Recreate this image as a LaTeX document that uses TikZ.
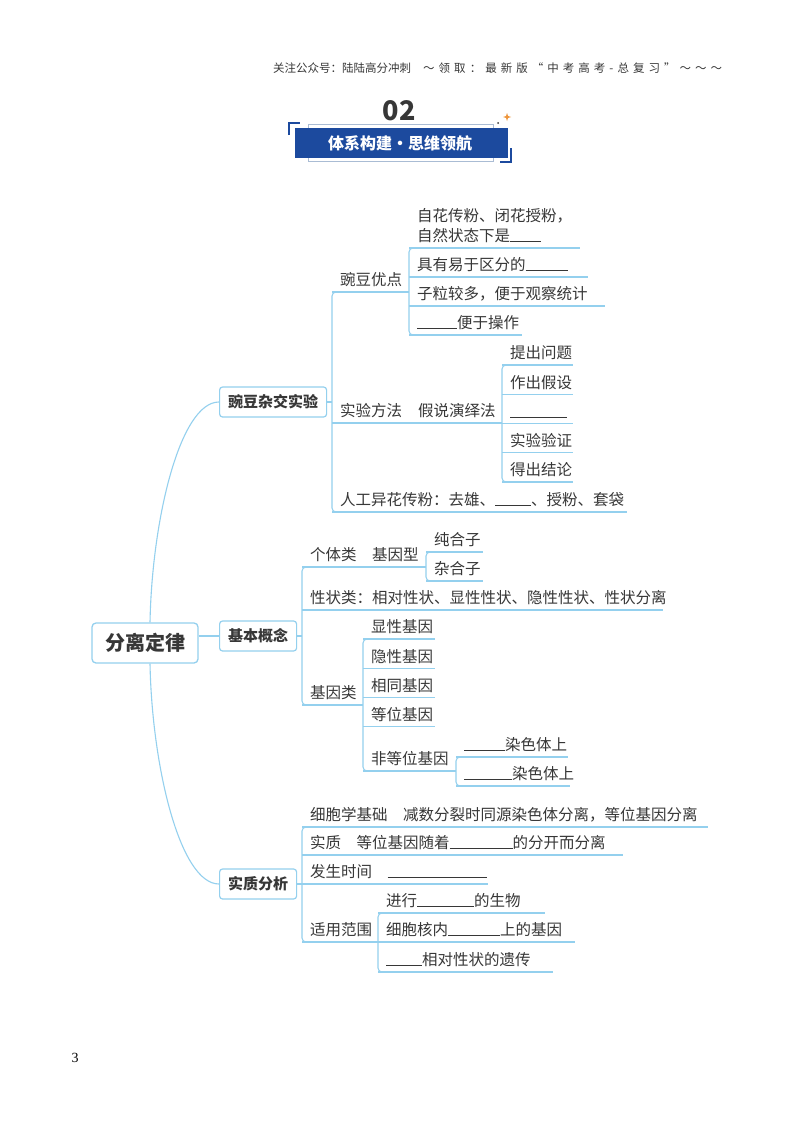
\documentclass[tikz,border=0pt]{standalone}
\usepackage{fontspec}
\setmainfont{Noto Sans CJK SC}
\newfontfamily\pagefont{Liberation Serif}
\usepackage{tikz}
\definecolor{lineblue}{RGB}{148,208,238}
\definecolor{ink}{RGB}{55,55,55}
\definecolor{bannerblue}{RGB}{28,74,158}
\definecolor{framegray}{RGB}{170,188,212}
\definecolor{sparkorange}{RGB}{238,150,60}
\newcommand\fillin[1]{\rule[-0.5pt]{#1}{1.1pt}}

\begin{document}
\begin{tikzpicture}[
      x=1pt, y=-1pt,
      ln/.style={draw=lineblue, line width=1.1pt},
      root/.style={draw=lineblue, line width=1.3pt, rounded corners=4pt, fill=white, minimum width=106pt, minimum height=40pt, font=\bfseries\fontsize{20}{24}\selectfont, text=ink},
      box/.style={draw=lineblue, line width=1.2pt, rounded corners=3pt, fill=white, anchor=west, minimum height=30pt, inner sep=0pt, font=\bfseries\fontsize{15}{18}\selectfont, text=ink},
      topic/.style={anchor=south west, inner xsep=8pt, inner ysep=2pt, text height=12pt, text depth=4pt, font=\fontsize{15.5}{20}\selectfont, text=ink},
      head/.style={anchor=west, inner sep=0pt, font=\fontsize{11.5}{14}\selectfont, text=ink}
    ]
      \fill[white] (0,0) rectangle (800,1132);

      \node[head] (hd1) at (273,68) {关注公众号：陆陆高分冲刺};
      \node[head] (hd2) at (423,68) {\addfontfeatures{LetterSpace=35}～领取：最新版“中考高考-总复习”～～～};

      \draw[draw=framegray, line width=0.8pt] (308,124) rectangle (493,161);
      \fill[bannerblue] (295,128) rectangle (508,158);
      \draw[bannerblue, line width=1.4pt] (289,135) -- (289,123) -- (300,123);
      \draw[bannerblue, line width=1.4pt] (500,162) -- (511,162) -- (511,148);
      \fill[ink] (498,123) circle (1pt);
      \fill[sparkorange] (507,113) -- (508,116) -- (511,117) -- (508,118) -- (507,121) -- (506,118) -- (503,117) -- (506,116) -- cycle;
      \node[font=\bfseries\fontsize{27}{30}\selectfont, text=ink] (num) at (399,111) {02};
      \node[font=\bfseries\fontsize{16}{18}\selectfont, text=white] (ttl) at (400,143) {体系构建·思维领航};

      \node[root] (root) at (145,643) {分离定律};
      \node[box, minimum width=107pt] (pea) at (219,402) {豌豆杂交实验};
      \node[box, minimum width=77pt] (con) at (219,636) {基本概念};
      \node[box, minimum width=77pt] (ess) at (219,884) {实质分析};

      \draw[ln] ([xshift=5pt]root.north) .. controls +(2,-103) and +(-39,0) .. (pea.west);
      \draw[ln] (root.east |- con.west) -- (con.west);
      \draw[ln] ([xshift=5pt]root.south) .. controls +(2,103) and +(-39,0) .. (ess.west);

      \node[topic] (adv) at (332,292) {豌豆优点};
      \node[topic] (a1) at (409,248) {\begin{tabular}[b]{@{}l@{}}自花传粉、闭花授粉，\\自然状态下是\fillin{31pt}\end{tabular}};
      \node[topic] (a2) at (409,277) {具有易于区分的\fillin{42pt}};
      \node[topic] (a3) at (409,306) {子粒较多，便于观察统计};
      \node[topic] (a4) at (409,335) {\fillin{40pt}便于操作};
      \node[topic] (met) at (332,423) {实验方法};
      \node[topic] (hyp) at (410,423) {假说演绎法};
      \foreach \t [count=\i] in {提出问题,作出假设,\fillin{57pt},实验验证,得出结论} {
        \node[topic] (s\i) at (502,{365+29.25*(\i-1)}) {\t};
        \draw[ln] (s\i.south west) -- ++(71,0);
      }
      \node[topic] (art) at (332,512) {人工异花传粉：去雄、\fillin{36pt}、授粉、套袋};

      \draw[ln] (pea.east) -- (pea.east -| adv.south west);
      \draw[ln, rounded corners=4pt] (adv.south west) ++(8,0) -- (adv.south west) -- (art.south west) -- ++(8,0);
      \draw[ln] (adv.south west) -- (adv.south west -| a1.south west);
      \draw[ln, rounded corners=4pt] (a1.south west) ++(8,0) -- (a1.south west) -- (a4.south west) -- ++(8,0);
      \draw[ln] (a1.south west) -- ++(171,0);
      \draw[ln] (a2.south west) -- ++(179,0);
      \draw[ln] (a3.south west) -- ++(196,0);
      \draw[ln] (a4.south west) -- ++(113,0);
      \draw[ln] (met.south west) -- (hyp.south west -| s1.south west);
      \draw[ln, rounded corners=4pt] (s1.south west) ++(8,0) -- (s1.south west) -- (s5.south west) -- ++(8,0);
      \draw[ln] (art.south west) -- ++(295,0);

      \node[topic] (ind) at (302,567) {个体类};
      \node[topic] (gty) at (364,567) {基因型};
      \node[topic] (pur) at (426,552) {纯合子};
      \node[topic] (het) at (426,581) {杂合子};
      \node[topic] (tra) at (302,610) {性状类：相对性状、显性性状、隐性性状、性状分离};
      \node[topic] (gcl) at (302,705) {基因类};
      \foreach \t [count=\i] in {显性基因,隐性基因,相同基因,等位基因} {
        \node[topic] (g\i) at (363,{639+29.3*(\i-1)}) {\t};
        \draw[ln] (g\i.south west) -- ++(72,0);
      }
      \node[topic] (g5) at (363,771) {非等位基因};
      \node[topic] (n1) at (456,757) {\fillin{41pt}染色体上};
      \node[topic] (n2) at (456,786) {\fillin{48pt}染色体上};

      \draw[ln] (con.east) -- (con.east -| ind.south west);
      \draw[ln, rounded corners=4pt] (ind.south west) ++(8,0) -- (ind.south west) -- (gcl.south west) -- ++(8,0);
      \draw[ln] (ind.south west) -- (ind.south west -| pur.south west);
      \draw[ln, rounded corners=4pt] (pur.south west) ++(8,0) -- (pur.south west) -- (het.south west) -- ++(8,0);
      \draw[ln] (pur.south west) -- ++(57,0);
      \draw[ln] (het.south west) -- ++(57,0);
      \draw[ln] (tra.south west) -- ++(361,0);
      \draw[ln] (gcl.south west) -- (gcl.south west -| g1.south west);
      \draw[ln, rounded corners=4pt] (g1.south west) ++(8,0) -- (g1.south west) -- (g5.south west) -- ++(8,0);
      \draw[ln] (g5.south west) -- (g5.south west -| n1.south west);
      \draw[ln, rounded corners=4pt] (n1.south west) ++(8,0) -- (n1.south west) -- (n2.south west) -- ++(8,0);
      \draw[ln] (n1.south west) -- ++(112,0);
      \draw[ln] (n2.south west) -- ++(114,0);

      \node[topic] (cyt) at (302,827) {细胞学基础\quad 减数分裂时同源染色体分离，等位基因分离};
      \node[topic] (sub) at (302,855) {实质\quad 等位基因随着\fillin{63pt}的分开而分离};
      \node[topic] (tim) at (302,884) {发生时间\quad \fillin{99pt}};
      \node[topic] (ran) at (302,942) {适用范围};
      \node[topic] (r1) at (378,913) {进行\fillin{57pt}的生物};
      \node[topic] (r2) at (378,942) {细胞核内\fillin{52pt}上的基因};
      \node[topic] (r3) at (378,972) {\fillin{36pt}相对性状的遗传};

      \draw[ln] (ess.east) -- (ess.east -| cyt.south west);
      \draw[ln, rounded corners=4pt] (cyt.south west) ++(8,0) -- (cyt.south west) -- (ran.south west) -- ++(8,0);
      \draw[ln] (cyt.south west) -- ++(406,0);
      \draw[ln] (sub.south west) -- ++(321,0);
      \draw[ln] (tim.south west) -- ++(186,0);
      \draw[ln] (ran.south west) -- (ran.south west -| r1.south west);
      \draw[ln, rounded corners=4pt] (r1.south west) ++(8,0) -- (r1.south west) -- (r3.south west) -- ++(8,0);
      \draw[ln] (r1.south west) -- ++(167,0);
      \draw[ln] (r2.south west) -- ++(197,0);
      \draw[ln] (r3.south west) -- ++(175,0);

      \node[font=\pagefont\fontsize{14}{16}\selectfont, text=black] (pg) at (75,1058) {3};
    \end{tikzpicture}
\end{document}
